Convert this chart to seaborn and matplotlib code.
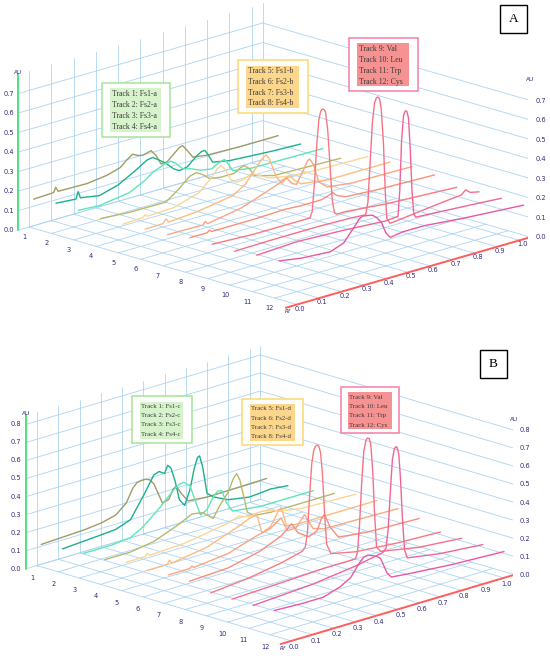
import numpy as np
import matplotlib
matplotlib.use("Agg")
import matplotlib.pyplot as plt
import seaborn as sns
from matplotlib.patches import Rectangle
from mpl_toolkits.mplot3d import proj3d

# ---------------- data ----------------
tracks = [1, 2, 3, 4, 5, 6, 7, 8, 9, 10, 11, 12]
track_colors = ["#a09c64", "#1db08c", "#5ee6b8", "#b8b86a",
                "#fdd594", "#fcbc80", "#fba582", "#fa8f7c",
                "#f87a80", "#f7708a", "#f26496", "#ea58a0"]
rf_ticks = [0.0, 0.1, 0.2, 0.3, 0.4, 0.5, 0.6, 0.7, 0.8, 0.9, 1.0]
au_ticks_a = [0.0, 0.1, 0.2, 0.3, 0.4, 0.5, 0.6, 0.7]
au_ticks_b = [0.0, 0.1, 0.2, 0.3, 0.4, 0.5, 0.6, 0.7, 0.8]

legend_a = [["Track 1: Fs1-a", "Track 2: Fs2-a", "Track 3: Fs3-a", "Track 4: Fs4-a"],
            ["Track 5: Fs1-b", "Track 6: Fs2-b", "Track 7: Fs3-b", "Track 8: Fs4-b"],
            ["Track 9: Val", "Track 10: Leu", "Track 11: Trp", "Track 12: Cys"]]
legend_b = [["Track 1: Fs1-c", "Track 2: Fs2-c", "Track 3: Fs3-c", "Track 4: Fs4-c"],
            ["Track 5: Fs1-d", "Track 6: Fs2-d", "Track 7: Fs3-d", "Track 8: Fs4-d"],
            ["Track 9: Val", "Track 10: Leu", "Track 11: Trp", "Track 12: Cys"]]

# (Rf, AU) points per track, panel A
A1 = [(0.02, 0.136), (0.11, 0.14), (0.12, 0.164), (0.13, 0.14), (0.26, 0.137), (0.35, 0.15), (0.41, 0.17),
      (0.44, 0.2), (0.465, 0.22), (0.49, 0.205), (0.51, 0.2), (0.53, 0.205), (0.548, 0.211), (0.57, 0.18),
      (0.593, 0.128), (0.62, 0.13), (0.65, 0.16), (0.675, 0.185), (0.69, 0.19), (0.71, 0.16),
      (0.736, 0.116), (0.8, 0.105), (0.95, 0.1), (1.12, 0.10)]
A2 = [(0.02, 0.148), (0.11, 0.14), (0.12, 0.175), (0.13, 0.14), (0.215, 0.123), (0.3, 0.15), (0.38, 0.2),
      (0.43, 0.235), (0.455, 0.24), (0.48, 0.22), (0.515, 0.19), (0.55, 0.15), (0.575, 0.133), (0.61, 0.14),
      (0.65, 0.18), (0.675, 0.198), (0.69, 0.199), (0.705, 0.17), (0.725, 0.127), (0.8, 0.11),
      (1.0, 0.095), (1.12, 0.09)]
A3 = [(0.02, 0.145), (0.114, 0.138), (0.25, 0.16), (0.32, 0.2), (0.355, 0.23), (0.41, 0.255), (0.437, 0.26),
      (0.46, 0.24), (0.49, 0.203), (0.53, 0.19), (0.57, 0.17), (0.62, 0.16), (0.65, 0.18), (0.677, 0.19),
      (0.695, 0.16), (0.715, 0.12), (0.8, 0.105), (1.12, 0.1)]
A4 = [(0.02, 0.136), (0.15, 0.125), (0.314, 0.124), (0.37, 0.17), (0.42, 0.22), (0.45, 0.23), (0.48, 0.21),
      (0.51, 0.18), (0.56, 0.17), (0.62, 0.17), (0.65, 0.19), (0.667, 0.195), (0.69, 0.17), (0.712, 0.129),
      (0.8, 0.1), (1.1, 0.09)]
A5 = [(0.02, 0.14), (0.11, 0.145), (0.12, 0.155), (0.13, 0.145), (0.25, 0.15), (0.364, 0.19), (0.42, 0.25),
      (0.445, 0.285), (0.462, 0.295), (0.48, 0.27), (0.505, 0.21), (0.529, 0.188), (0.56, 0.19),
      (0.6, 0.21), (0.63, 0.19), (0.68, 0.16), (0.77, 0.14), (0.9, 0.13), (1.12, 0.125)]
A6 = [(0.02, 0.148), (0.10, 0.15), (0.114, 0.17), (0.125, 0.15), (0.25, 0.16), (0.414, 0.19), (0.47, 0.23),
      (0.52, 0.3), (0.55, 0.34), (0.564, 0.35), (0.58, 0.32), (0.61, 0.22), (0.635, 0.18), (0.655, 0.2),
      (0.669, 0.21), (0.69, 0.18), (0.72, 0.15), (0.85, 0.13), (1.12, 0.13)]
A7 = [(0.02, 0.153), (0.18, 0.15), (0.19, 0.165), (0.2, 0.15), (0.35, 0.18), (0.45, 0.22), (0.52, 0.25),
      (0.554, 0.27), (0.58, 0.23), (0.6, 0.22), (0.63, 0.28), (0.65, 0.325), (0.659, 0.33), (0.675, 0.3),
      (0.7, 0.2), (0.74, 0.16), (0.85, 0.145), (1.12, 0.14)]
A8 = [(0.02, 0.17), (0.098, 0.17), (0.108, 0.18), (0.118, 0.17), (0.3, 0.17), (0.45, 0.175), (0.513, 0.17),
      (0.56, 0.17), (0.61, 0.17), (0.64, 0.18), (0.663, 0.19), (0.68, 0.17), (0.72, 0.15), (0.85, 0.14),
      (1.12, 0.13)]
A9 = [(0.02, 0.17), (0.2, 0.16), (0.35, 0.16), (0.46, 0.16), (0.47, 0.19), (0.48, 0.33), (0.49, 0.52),
      (0.5, 0.65), (0.508, 0.69), (0.515, 0.70), (0.523, 0.695), (0.53, 0.68), (0.54, 0.58), (0.55, 0.4),
      (0.56, 0.22), (0.57, 0.15), (0.58, 0.14), (0.62, 0.14), (0.8, 0.12), (1.12, 0.10)]
A10 = [(0.02, 0.167), (0.2, 0.17), (0.4, 0.17), (0.55, 0.165), (0.61, 0.16), (0.62, 0.22), (0.63, 0.42),
       (0.64, 0.62), (0.65, 0.72), (0.658, 0.743), (0.665, 0.746), (0.672, 0.735), (0.68, 0.68),
       (0.69, 0.5), (0.698, 0.25), (0.705, 0.11), (0.72, 0.08), (0.8, 0.09), (0.95, 0.11), (1.04, 0.12),
       (1.06, 0.14), (1.08, 0.12), (1.12, 0.11)]
A11 = [(0.02, 0.18), (0.2, 0.19), (0.4, 0.18), (0.6, 0.165), (0.655, 0.17), (0.663, 0.3), (0.671, 0.55),
       (0.68, 0.68), (0.688, 0.70), (0.695, 0.695), (0.702, 0.66), (0.71, 0.5), (0.718, 0.28),
       (0.726, 0.16), (0.735, 0.14), (0.8, 0.135), (1.0, 0.12), (1.12, 0.11)]
A12 = [(0.02, 0.184), (0.12, 0.165), (0.25, 0.155), (0.31, 0.18), (0.36, 0.25), (0.38, 0.28),
       (0.395, 0.29), (0.42, 0.285), (0.44, 0.28), (0.46, 0.26), (0.48, 0.23), (0.5, 0.17), (0.52, 0.14),
       (0.575, 0.15), (0.67, 0.15), (0.85, 0.13), (1.12, 0.108)]

# (Rf, AU) points per track, panel B
B1 = [(0.02, 0.11), (0.12, 0.115), (0.22, 0.12), (0.3, 0.13), (0.37, 0.15), (0.42, 0.2), (0.45, 0.27),
      (0.47, 0.295), (0.49, 0.3), (0.51, 0.30), (0.53, 0.29), (0.55, 0.26), (0.57, 0.2), (0.59, 0.14),
      (0.62, 0.15), (0.64, 0.2), (0.655, 0.21), (0.68, 0.16), (0.71, 0.11), (0.8, 0.1), (1.08, 0.105)]
B2 = [(0.02, 0.12), (0.15, 0.13), (0.27, 0.14), (0.34, 0.17), (0.4, 0.28), (0.45, 0.38), (0.475, 0.39),
      (0.5, 0.37), (0.515, 0.41), (0.53, 0.39), (0.55, 0.31), (0.57, 0.2), (0.595, 0.16), (0.62, 0.24),
      (0.64, 0.35), (0.655, 0.405), (0.665, 0.41), (0.68, 0.34), (0.7, 0.19), (0.73, 0.16), (0.8, 0.12),
      (0.9, 0.1), (1.0, 0.11), (1.08, 0.1)]
B3 = [(0.02, 0.13), (0.15, 0.13), (0.24, 0.14), (0.3, 0.18), (0.38, 0.26), (0.44, 0.33), (0.47, 0.355),
      (0.49, 0.36), (0.52, 0.33), (0.55, 0.22), (0.57, 0.15), (0.6, 0.17), (0.63, 0.23), (0.65, 0.255),
      (0.67, 0.25), (0.69, 0.18), (0.72, 0.12), (0.85, 0.1), (1.1, 0.1)]
B4 = [(0.02, 0.13), (0.14, 0.13), (0.25, 0.15), (0.36, 0.2), (0.43, 0.24), (0.48, 0.23), (0.53, 0.18),
      (0.56, 0.24), (0.6, 0.3), (0.625, 0.37), (0.64, 0.39), (0.655, 0.35), (0.67, 0.27), (0.69, 0.16),
      (0.72, 0.13), (0.8, 0.12), (1.1, 0.12)]
B5 = [(0.02, 0.15), (0.11, 0.15), (0.12, 0.165), (0.13, 0.15), (0.3, 0.16), (0.45, 0.19), (0.5, 0.2),
      (0.55, 0.22), (0.6, 0.2), (0.66, 0.21), (0.7, 0.2), (0.75, 0.18), (0.85, 0.16), (1.1, 0.15)]
B6 = [(0.02, 0.14), (0.115, 0.14), (0.125, 0.16), (0.135, 0.14), (0.3, 0.17), (0.44, 0.23), (0.5, 0.26),
      (0.535, 0.27), (0.56, 0.16), (0.6, 0.18), (0.635, 0.25), (0.65, 0.27), (0.675, 0.16), (0.72, 0.15),
      (0.85, 0.15), (1.1, 0.15)]
B7 = [(0.02, 0.15), (0.12, 0.15), (0.13, 0.16), (0.14, 0.15), (0.3, 0.17), (0.43, 0.22), (0.5, 0.24),
      (0.55, 0.28), (0.58, 0.2), (0.62, 0.2), (0.66, 0.26), (0.7, 0.17), (0.75, 0.15), (1.1, 0.14)]
B8 = [(0.02, 0.15), (0.2, 0.16), (0.35, 0.2), (0.45, 0.25), (0.5, 0.3), (0.53, 0.24), (0.58, 0.2),
      (0.62, 0.22), (0.64, 0.28), (0.655, 0.30), (0.68, 0.22), (0.72, 0.15), (0.85, 0.13), (1.1, 0.12)]
B9 = [(0.02, 0.12), (0.2, 0.14), (0.35, 0.17), (0.45, 0.2), (0.465, 0.22), (0.475, 0.3), (0.485, 0.5),
      (0.495, 0.67), (0.505, 0.745), (0.513, 0.76), (0.52, 0.765), (0.528, 0.755), (0.536, 0.72),
      (0.545, 0.6), (0.555, 0.38), (0.565, 0.2), (0.585, 0.14), (0.7, 0.11), (0.9, 0.09), (1.1, 0.08)]
B10 = [(0.02, 0.12), (0.25, 0.13), (0.45, 0.14), (0.6, 0.14), (0.61, 0.17), (0.62, 0.32), (0.63, 0.55),
       (0.64, 0.72), (0.65, 0.78), (0.657, 0.79), (0.665, 0.785), (0.673, 0.75), (0.682, 0.6),
       (0.69, 0.38), (0.7, 0.17), (0.72, 0.14), (0.9, 0.1), (1.1, 0.08)]
B11 = [(0.02, 0.12), (0.3, 0.14), (0.5, 0.17), (0.63, 0.2), (0.645, 0.22), (0.655, 0.32), (0.665, 0.52),
       (0.675, 0.7), (0.684, 0.755), (0.69, 0.765), (0.697, 0.76), (0.705, 0.72), (0.713, 0.58),
       (0.722, 0.36), (0.732, 0.18), (0.745, 0.13), (0.9, 0.1), (1.1, 0.08)]
B12 = [(0.02, 0.127), (0.15, 0.12), (0.25, 0.12), (0.33, 0.15), (0.38, 0.185), (0.42, 0.25), (0.44, 0.275),
       (0.46, 0.28), (0.48, 0.27), (0.5, 0.26), (0.52, 0.24), (0.55, 0.15), (0.57, 0.12), (0.65, 0.11),
       (0.85, 0.09), (1.1, 0.076)]

curves_a = [A1, A2, A3, A4, A5, A6, A7, A8, A9, A10, A11, A12]
curves_b = [B1, B2, B3, B4, B5, B6, B7, B8, B9, B10, B11, B12]

# ---------------- style ----------------
sns.set_theme(style="white")
plt.rcParams["font.family"] = ["DejaVu Sans"]
GRID = "#acd4f2"
GREEN = "#4fe27e"
RED = "#ff5c5c"
TICK = "#2f2b7c"
SERIF = ["Liberation Serif", "DejaVu Serif"]

W, H = 550, 658
fig = plt.figure(figsize=(W / 100, H / 100), dpi=100)
palette = sns.color_palette(track_colors)


def to_px(ax, x, y, z):
    px, py, _ = proj3d.proj_transform(np.atleast_1d(np.asarray(x, float)),
                                      np.atleast_1d(np.asarray(y, float)),
                                      np.atleast_1d(np.asarray(z, float)), ax.get_proj())
    d = ax.transData.transform(np.column_stack([px, py]))
    return d[:, 0], H - d[:, 1]


def fit_axes(ax, anchors):
    # move/scale the square 3d axes so that the box corners land where they are in the picture
    fig.canvas.draw()
    pos = ax.get_position()
    ox, oy, side = pos.x0 * W, pos.y0 * H, pos.width * W
    pts = np.array([a[0] for a in anchors])
    tgt = np.array([(a[1][0], H - a[1][1]) for a in anchors])
    sx, sy = to_px(ax, pts[:, 0], pts[:, 1], pts[:, 2])
    q = np.column_stack([(sx - ox) / side, ((H - sy) - oy) / side])
    n = len(tgt)
    A = np.zeros((2 * n, 3))
    b = np.zeros(2 * n)
    A[0::2, 0] = 1
    A[0::2, 2] = q[:, 0]
    b[0::2] = tgt[:, 0]
    A[1::2, 1] = 1
    A[1::2, 2] = q[:, 1]
    b[1::2] = tgt[:, 1]
    ox2, oy2, side2 = np.linalg.lstsq(A, b, rcond=None)[0]
    ax.set_position([ox2 / W, oy2 / H, side2 / W, side2 / H])
    fig.canvas.draw()


def ftext(x, y, s, **kw):
    fig.text(x / W, 1 - y / H, s, **kw)


def draw_panel(curves, au_ticks, zmax, elev, azim, aspect, anchors, opts):
    ax = fig.add_axes([0.05, 0.05, 0.9, 0.4], projection="3d", proj_type="ortho")
    ax.set_axis_off()
    ax.computed_zorder = False
    ax.patch.set_alpha(0)
    ax.set_xlim(-0.05, 1.05)
    ax.set_ylim(13, 1)
    ax.set_zlim(0, zmax)
    ax.view_init(elev=elev, azim=azim)
    ax.set_box_aspect(aspect)

    g = dict(color=GRID, lw=0.6, zorder=1)
    for t in tracks:
        ax.plot([0, 1.05], [t, t], [0, 0], **g)
    for r in rf_ticks + [1.05]:
        ax.plot([r, r], [1, 13], [0, 0], **g)
        ax.plot([r, r], [1, 1], [0, zmax], **g)
    for z in au_ticks[1:]:
        ax.plot([-0.05, 1.05], [1, 1], [z, z], **g)
        ax.plot([1.05, 1.05], [1, 13], [z, z], **g)
    ax.plot([-0.05, 1.05], [1, 1], [0, 0], **g)

    for t, pts, col in zip(tracks, curves, palette):
        rf = [p[0] for p in pts]
        au = [p[1] for p in pts]
        ax.plot(rf, [t] * len(rf), au, color=col, lw=1.0, zorder=2 + t * 0.01,
                solid_joinstyle="round", solid_capstyle="round")

    ax.plot([-0.05, -0.05], [1, 1], [0, zmax], color=GREEN, lw=1.4, zorder=3)
    ax.plot([1.05, 1.05], [13, 13], [0, zmax], color=GREEN, lw=1.4, zorder=3)
    ax.plot([-0.05, 1.05], [13, 13], [0, 0], color=RED, lw=1.4, zorder=3)

    fit_axes(ax, anchors)

    fs = opts["tick_fs"]
    for z in au_ticks:
        x, y = to_px(ax, -0.05, 1, z)
        ftext(x[0] - opts["left_pad"], y[0], f"{z:.1f}", ha="right", va="center", fontsize=fs, color=TICK)
        x, y = to_px(ax, 1.05, 13, z)
        ftext(x[0] + 5, y[0], f"{z:.1f}", ha="left", va="center", fontsize=fs, color=TICK)
    x, y = to_px(ax, -0.05, 1, zmax)
    ftext(x[0], y[0] - 2, "AU", ha="center", va="center", fontsize=fs - 0.6, color=TICK)
    x, y = to_px(ax, 1.05, 13, zmax)
    ftext(x[0], y[0] - 2, "AU", ha="center", va="center", fontsize=fs - 0.6, color=TICK)
    for t in tracks:
        x, y = to_px(ax, 0, t, 0)
        ftext(x[0] - 5, y[0] + opts["track_dy"], str(t), ha="center", va="center", fontsize=fs, color=TICK)
    for r in rf_ticks:
        x, y = to_px(ax, r, 13, 0)
        ftext(x[0] + 3, y[0] + opts["rf_dy"], f"{r:.1f}", ha="center", va="center", fontsize=fs, color=TICK)
    x, y = to_px(ax, -0.05, 13, 0)
    ftext(x[0] + 2, y[0] + 4, "Rf", ha="center", va="center", fontsize=fs - 0.8, color=TICK, style="italic")

    # legend boxes
    for lines, box in zip(opts["legend"], opts["boxes"]):
        (x0, y0, x1, y1), (ix0, iy0, ix1, iy1), edge, fill, ys, tx = box
        fig.add_artist(Rectangle((x0 / W, 1 - y1 / H), (x1 - x0) / W, (y1 - y0) / H,
                                 transform=fig.transFigure, fc="white", ec=edge, lw=1.1, zorder=5))
        fig.add_artist(Rectangle((ix0 / W, 1 - iy1 / H), (ix1 - ix0) / W, (iy1 - iy0) / H,
                                 transform=fig.transFigure, fc=fill, ec="none", zorder=6))
        for s, yy in zip(lines, ys):
            fig.text(tx / W, 1 - yy / H, s, ha="left", va="center", fontsize=opts["leg_fs"],
                     family=SERIF, color="#3a3a3a", zorder=7)

    lx0, ly0, lx1, ly1 = opts["letter_box"]
    fig.add_artist(Rectangle((lx0 / W, 1 - ly1 / H), (lx1 - lx0) / W, (ly1 - ly0) / H,
                             transform=fig.transFigure, fc="white", ec="black", lw=1.0, zorder=5))
    fig.text((lx0 + lx1) / 2 / W, 1 - (ly0 + ly1) / 2 / H, opts["letter"], ha="center", va="center",
             fontsize=9.5, family=SERIF, color="black", zorder=6)
    return ax


draw_panel(curves_a, au_ticks_a, 0.8, 16.8, 225.05, (345.2, 378.6, 162.9),
           [((0, 1, 0), (30, 228)), ((-0.05, 13, 0), (287, 308)), ((1.05, 13, 0), (530, 237)),
            ((1.05, 13, 0.7), (530, 99)), ((-0.05, 1, 0.7), (17, 94))],
           dict(tick_fs=4.8, left_pad=4, track_dy=10, rf_dy=4, leg_fs=5.6, legend=legend_a,
                boxes=[((102, 83, 170, 137), (110, 88, 161, 132), "#a4e596", "#d6f3cc",
                        [94.3, 105, 115.7, 126.7], 112),
                       ((238, 60, 308, 113), (246, 66, 299, 108), "#fdd970", "#fcd68a",
                        [71, 82.3, 92.7, 103.3], 248),
                       ((349, 38, 418, 91), (357, 43, 409, 86), "#f47fa6", "#f69292",
                        [49, 60, 70.7, 81.7], 359)],
                letter_box=(500, 5, 527, 33), letter="A"))

draw_panel(curves_b, au_ticks_b, 0.85, 17.25, 225.0, (331.8, 360.6, 161.1),
           [((0, 1, 0), (37, 565)), ((-0.05, 13, 0), (282, 645)), ((1.05, 13, 0), (514, 575)),
            ((1.05, 13, 0.8), (514, 430)), ((-0.05, 1, 0.8), (26, 424))],
           dict(tick_fs=4.8, left_pad=5, track_dy=12, rf_dy=6, leg_fs=4.9, legend=legend_b,
                boxes=[((132, 396, 192, 443), (140, 401.5, 183.5, 438.5), "#a4e596", "#d6f3cc",
                        [406.7, 415.7, 425, 434.3], 141),
                       ((242, 399, 303, 445), (250, 404, 295, 441), "#fdd970", "#fcd68a",
                        [409, 418.7, 427.7, 437], 251),
                       ((341, 387, 399, 433), (348, 391.5, 392, 429), "#f47fa6", "#f69292",
                        [397.3, 406.7, 416, 425.7], 349)],
                letter_box=(480, 350, 507, 378), letter="B"))

fig.savefig("out.png", dpi=100)
